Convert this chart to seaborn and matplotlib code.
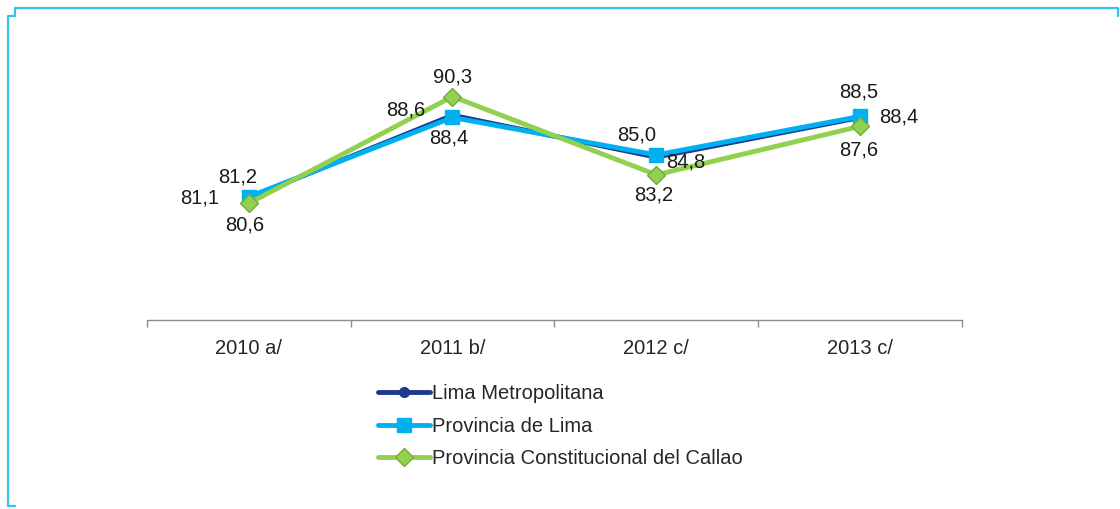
import numpy as np
import pandas as pd
import matplotlib.pyplot as plt
from matplotlib.lines import Line2D
from matplotlib.ticker import FixedLocator, NullFormatter
import seaborn as sns

# datos
anios = ["2010 a/", "2011 b/", "2012 c/", "2013 c/"]
lima_metro = [81.1, 88.6, 84.8, 88.4]
prov_lima = [81.2, 88.4, 85.0, 88.5]
callao = [80.6, 90.3, 83.2, 87.6]

sns.set_style("white")
plt.rcParams['font.family'] = ['Liberation Sans', 'DejaVu Sans']

fig = plt.figure(figsize=(11.2, 5.09), dpi=100)
ax = fig.add_axes([0.131, 0.371, 0.728, 0.541])

pos = np.arange(len(anios))

# nombre, valores, color, marcador, tamaño, borde, desplazamientos de etiquetas (px)
series = [
    ("Lima Metropolitana", lima_metro, "#1B3A8C", "o", 7, "#1B3A8C",
     [(-30, 0, "right"), (-27, 5, "right"), (10, -5, "left"), (19, 0, "left")]),
    ("Provincia de Lima", prov_lima, "#00B0F0", "s", 9.4, "#00B0F0",
     [(-11, 20, "center"), (-4, -21, "center"), (-20, 20, "center"), (-1, 24, "center")]),
    ("Provincia Constitucional del Callao", callao, "#92D050", "D", 8.7, "#76A83A",
     [(-4, -22, "center"), (0, 20, "center"), (-3, -20, "center"), (-1, -24, "center")]),
]

for nombre, vals, color, mk, ms, mec, offs in series:
    sns.lineplot(x=pos, y=vals, color=color, marker=mk, markersize=ms,
                 markeredgecolor=mec, markeredgewidth=1, linewidth=3.5,
                 label=nombre, ax=ax)
    for i, v in enumerate(vals):
        dx, dy, ha = offs[i]
        ax.annotate(f"{v:.1f}".replace(".", ","), (pos[i], v),
                    xytext=(dx * 0.72, dy * 0.72), textcoords="offset points",
                    ha=ha, va="center", fontsize=14.5, color="#1a1a1a")

ax.set_xlim(-0.5, 3.5)
ax.set_ylim(70, 95)
ax.set_yticks([])
ax.set_ylabel("")
ax.set_xlabel("")

# ticks entre categorías, etiquetas centradas
ax.xaxis.set_major_locator(FixedLocator(np.arange(-0.5, 4, 1)))
ax.xaxis.set_major_formatter(NullFormatter())
ax.set_xticks(pos, minor=True)
ax.set_xticklabels(anios, minor=True, fontsize=14.5)
ax.tick_params(axis="x", which="major", direction="out", length=5, width=1,
               color="#8C8C8C", bottom=True)
ax.tick_params(axis="x", which="minor", length=0, pad=13.5)

for s in ["top", "right", "left"]:
    ax.spines[s].set_visible(False)
ax.spines["bottom"].set_color("#8C8C8C")
ax.spines["bottom"].set_linewidth(1)

leg = ax.legend(loc="upper left", bbox_to_anchor=(378 / 1120, 1 - 384 / 509),
                bbox_transform=fig.transFigure, frameon=False, fontsize=14.5,
                handlelength=2.6, handletextpad=0.1, labelspacing=0.68,
                borderaxespad=0, borderpad=0)

# marco celeste
W, H = 1120, 509
def fx(x):
    return x / W
def fy(y):
    return 1 - y / H
fig.add_artist(Line2D([fx(8), fx(8), fx(15), fx(15), fx(1118), fx(1118)],
                      [fy(506), fy(16), fy(16), fy(8), fy(8), fy(16)],
                      color="#33C3F0", linewidth=1.6))
fig.add_artist(Line2D([fx(8), fx(15)], [fy(506), fy(506)],
                      color="#33C3F0", linewidth=1.6))

fig.savefig("out.png", dpi=100)
